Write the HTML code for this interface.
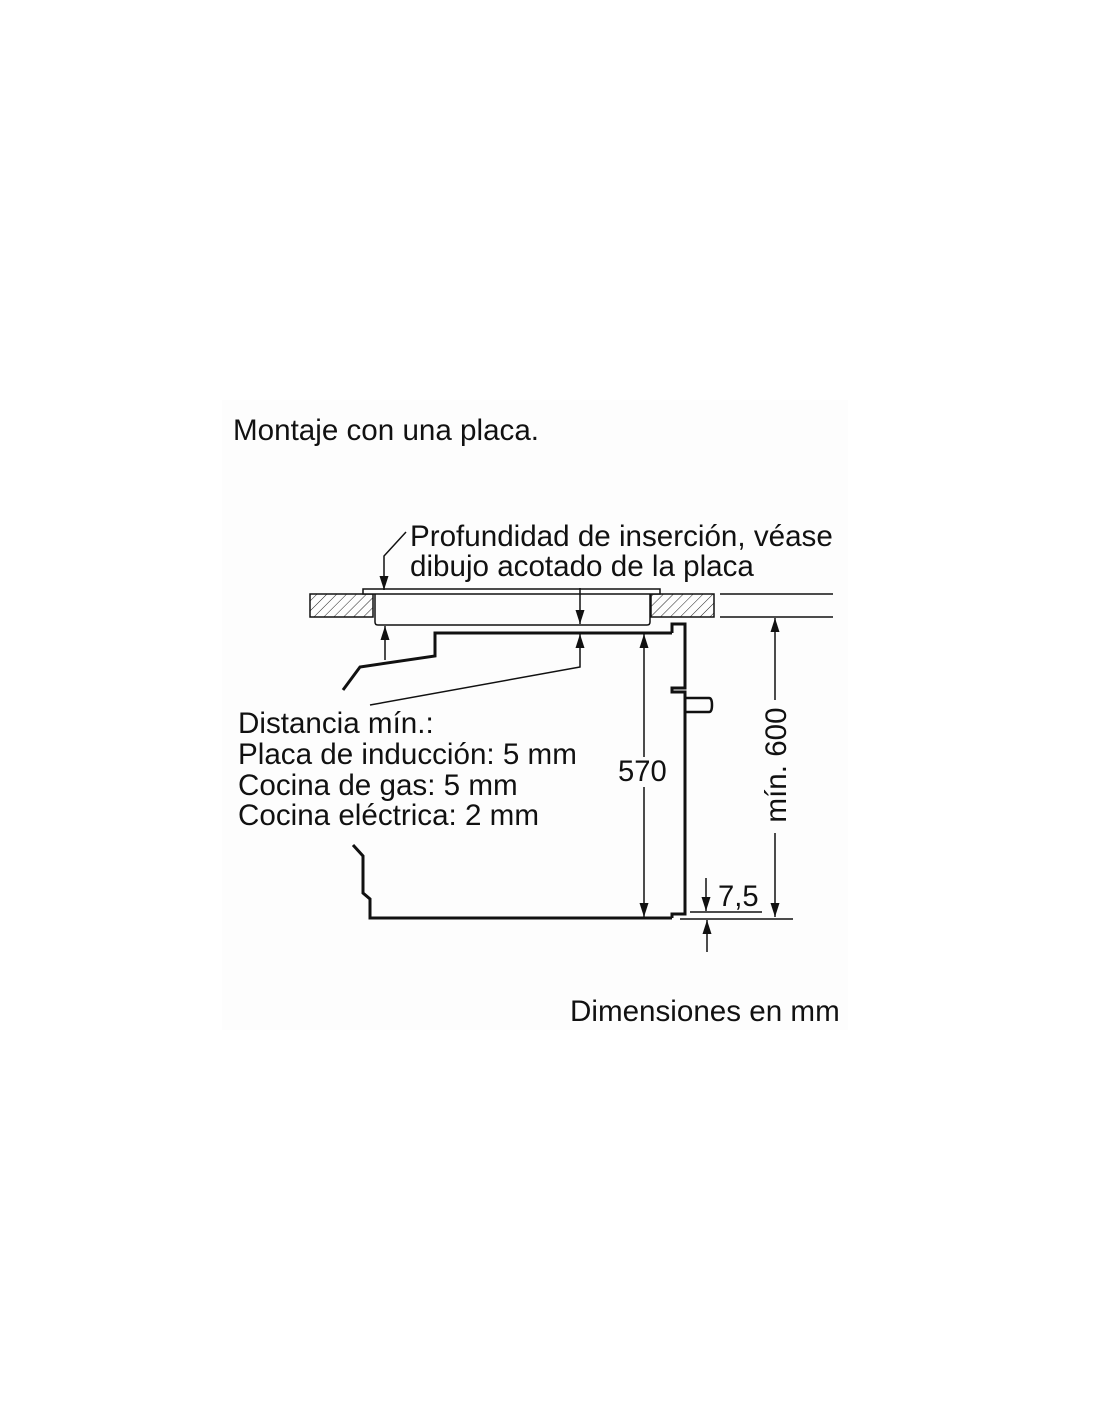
<!DOCTYPE html>
<html><head><meta charset="utf-8"><style>
html,body{margin:0;padding:0;background:#fff;}
svg{display:block;}
text{font-family:"Liberation Sans",sans-serif;fill:#111;}
</style></head><body>
<svg width="1100" height="1422" viewBox="0 0 1100 1422" xmlns="http://www.w3.org/2000/svg">
<defs>
<pattern id="h" width="7" height="7" patternUnits="userSpaceOnUse" patternTransform="rotate(45)">
<line x1="0" y1="0" x2="0" y2="7" stroke="#222" stroke-width="1"/>
</pattern>
<marker id="a" viewBox="0 0 14 10" refX="14" refY="5" markerWidth="14" markerHeight="10" markerUnits="userSpaceOnUse" orient="auto">
<path d="M0,0.5 L14,5 L0,9.5 Z" fill="#111"/>
</marker>
</defs>
<rect x="222" y="400" width="626" height="630" fill="#fdfdfd"/>
<text x="233" y="440" font-size="29.6">Montaje con una placa.</text>
<text x="410" y="546" font-size="29.6">Profundidad de inserción, véase</text>
<text x="410" y="576" font-size="29.6">dibujo acotado de la placa</text>
<text x="238" y="733" font-size="29.6">Distancia mín.:</text>
<text x="238" y="764" font-size="29.6">Placa de inducción: 5 mm</text>
<text x="238" y="795" font-size="29.6">Cocina de gas: 5 mm</text>
<text x="238" y="825" font-size="29.6">Cocina eléctrica: 2 mm</text>
<text x="570" y="1021" font-size="29.6">Dimensiones en mm</text>
<text x="618" y="781" font-size="29.2">570</text>
<text transform="translate(786,765) rotate(-90)" font-size="29.6" text-anchor="middle">mín. 600</text>
<text x="718" y="906" font-size="29.2">7,5</text>

<g stroke="#111" fill="none">
<rect x="310" y="594" width="63" height="23" fill="url(#h)" stroke-width="1.5"/>
<rect x="651" y="594" width="63" height="23" fill="url(#h)" stroke-width="1.5"/>
<rect x="363" y="589" width="297" height="5" stroke-width="1.5" fill="#fff"/>
<path d="M375,594 V622 Q375,625 378,625 H647 Q650,625 650,622 V594" stroke-width="1.5"/>
<line x1="720" y1="594" x2="833" y2="594" stroke-width="1.5"/>
<line x1="720" y1="617" x2="833" y2="617" stroke-width="1.5"/>
<path d="M672,633 H435 V656 L360,667 L343,690" stroke-width="3"/>
<path d="M353,845 L363,856 V893 L370,899 V918 H672" stroke-width="3"/>
<path d="M672,633 V624 H685 V688 H672 V692 H685 V914 H672 V918" stroke-width="3"/>
<path d="M685,698 H709 Q712,698 712,705 Q712,712 709,712 H685" stroke-width="2.5"/>
<path d="M406,532 L384,556 V590" stroke-width="1.5" marker-end="url(#a)"/>
<line x1="580" y1="588" x2="580" y2="624" stroke-width="1.5" marker-end="url(#a)"/>
<line x1="385" y1="660" x2="385" y2="626" stroke-width="1.5" marker-end="url(#a)"/>
<path d="M370,705 L580,667 V634" stroke-width="1.5" marker-end="url(#a)"/>
<line x1="644" y1="757" x2="644" y2="634" stroke-width="1.5" marker-end="url(#a)"/>
<line x1="644" y1="787" x2="644" y2="917" stroke-width="1.5" marker-end="url(#a)"/>
<line x1="775" y1="700" x2="775" y2="618" stroke-width="1.5" marker-end="url(#a)"/>
<line x1="775" y1="833" x2="775" y2="917" stroke-width="1.5" marker-end="url(#a)"/>
<line x1="706" y1="878" x2="706" y2="911" stroke-width="1.5" marker-end="url(#a)"/>
<line x1="707" y1="952" x2="707" y2="920" stroke-width="1.5" marker-end="url(#a)"/>
<line x1="690" y1="912" x2="762" y2="912" stroke-width="1.5"/>
<line x1="680" y1="919" x2="793" y2="919" stroke-width="1.5"/>
</g>
</svg>
</body></html>
